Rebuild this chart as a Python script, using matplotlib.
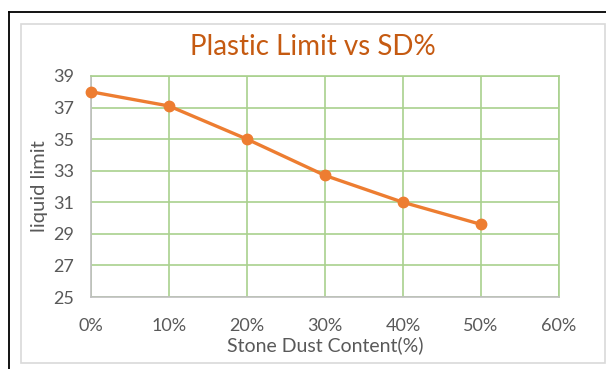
import matplotlib.pyplot as plt
from matplotlib.patches import Rectangle
from matplotlib.lines import Line2D

# --- Data ---
sd_content = [0, 10, 20, 30, 40, 50]
limit_values = [38.0, 37.1, 35.0, 32.7, 31.0, 29.6]
x_ticks = [0, 10, 20, 30, 40, 50, 60]
x_labels = ["0%", "10%", "20%", "30%", "40%", "50%", "60%"]
y_ticks = [25, 27, 29, 31, 33, 35, 37, 39]

plt.rcParams['font.family'] = ['Lato', 'DejaVu Sans']

W, H = 606, 369
fig = plt.figure(figsize=(W / 100, H / 100), dpi=100)

# outer frame: black on left/top, light gray chart box
fig.add_artist(Line2D([9 / W, 9 / W], [0, 1 - 12 / H], color='black', lw=1.3))
fig.add_artist(Line2D([9 / W, 1], [1 - 12 / H, 1 - 12 / H], color='black', lw=1.3))
fig.add_artist(Rectangle((21 / W, 1 - 363 / H), (605 - 21) / W, (363 - 24) / H,
                         fill=False, edgecolor='#d9d9d9', lw=1.2))

ax = fig.add_axes([91 / W, 1 - 297 / H, (559 - 91) / W, (297 - 76) / H])

grid_col = '#a9d18e'
ax.set_xlim(0, 60)
ax.set_ylim(25, 39)
ax.set_xticks(x_ticks)
ax.set_xticklabels(x_labels)
ax.set_yticks(y_ticks)
ax.grid(True, color=grid_col, lw=1.2)
ax.set_axisbelow(True)
for s in ['top', 'right']:
    ax.spines[s].set_color(grid_col)
    ax.spines[s].set_linewidth(1.2)
for s in ['left', 'bottom']:
    ax.spines[s].set_color('#bfbfbf')
    ax.spines[s].set_linewidth(1.2)
ax.tick_params(length=0, labelsize=13, colors='#595959')
ax.tick_params(axis='x', pad=15)
ax.tick_params(axis='y', pad=12)

ax.plot(sd_content, limit_values, color='#ed7d31', lw=2.4, marker='o',
        markersize=7.5, clip_on=False, zorder=3)

ax.set_xlabel("Stone Dust Content(%)", fontsize=14, color='#595959', labelpad=2)
ax.set_ylabel("liquid limit", fontsize=14.5, color='#595959', labelpad=4)
fig.text(313 / W, 1 - 47 / H, "Plastic Limit vs SD%", fontsize=20,
         color='#c55a11', ha='center', va='center')

fig.savefig("out.png", dpi=100)
